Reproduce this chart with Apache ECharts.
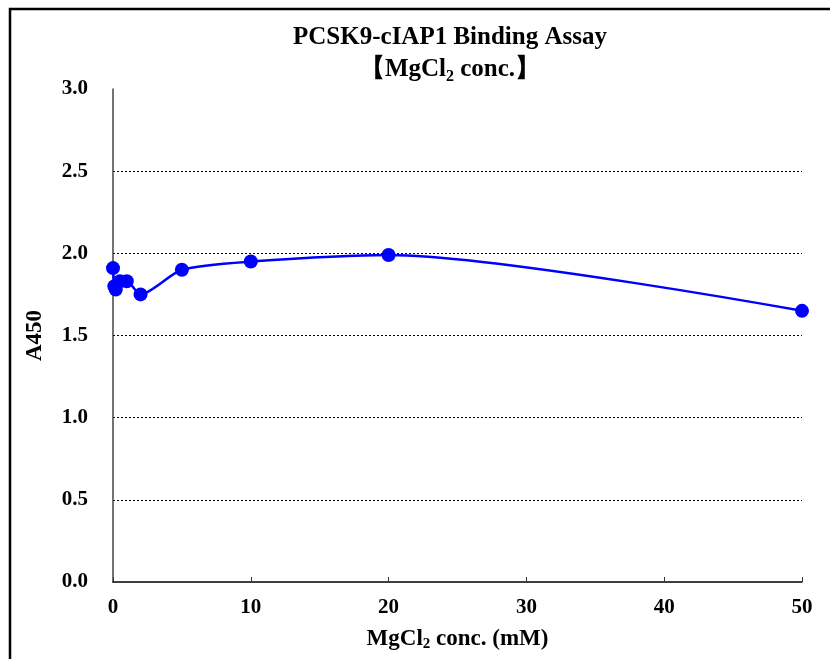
<!DOCTYPE html>
<html>
<head>
<meta charset="utf-8">
<script src="https://cdn.jsdelivr.net/npm/echarts@6/dist/echarts.min.js"></script>
<style>
  html, body { margin: 0; padding: 0; background: #fff; }
  #chart { width: 830px; height: 659px; }
</style>
</head>
<body>
<div id="chart"></div>
<script>
// MgCl2 concentration (mM) and A450 readings
const conc = [0, 0.1, 0.2, 0.5, 1, 2, 5, 10, 20, 50];
const a450 = [1.91, 1.80, 1.78, 1.83, 1.83, 1.75, 1.90, 1.95, 1.99, 1.65];
const gridValues = [0.5, 1.0, 1.5, 2.0, 2.5];

const serif = "'Liberation Serif', 'Times New Roman', serif";

const myChart = echarts.init(document.getElementById('chart'));

const points = conc.map((c, i) => [c, a450[i]]);

const option = {
    backgroundColor: '#fff',
    animation: false,
    title: {
        text: '{b|PCSK9-cIAP1 Binding Assay}\n{b|【MgCl}{s|2}{b| conc.】}',
        left: 445,
        top: 17,
        textAlign: 'center',
        textStyle: {
            rich: {
                b: { fontFamily: serif, fontWeight: 'bold', fontSize: 25, color: '#000', lineHeight: 32 },
                s: { fontFamily: serif, fontWeight: 'bold', fontSize: 16, color: '#000', lineHeight: 32, padding: [13, 0, 0, 0] }
            }
        }
    },
    graphic: [{
        type: 'rect',
        shape: { x: 10, y: 9, width: 860, height: 700 },
        style: { fill: 'none', stroke: '#000', lineWidth: 2.5 },
        silent: true
    }],
    grid: { left: 113, right: 28, top: 89, bottom: 77 },
    xAxis: {
        type: 'value',
        min: 0,
        max: 50,
        interval: 10,
        name: '{b|MgCl}{s|2}{b| conc. (mM)}',
        nameLocation: 'middle',
        nameGap: 44,
        nameTextStyle: {
            rich: {
                b: { fontFamily: serif, fontWeight: 'bold', fontSize: 23, color: '#000' },
                s: { fontFamily: serif, fontWeight: 'bold', fontSize: 15, color: '#000', padding: [11, 0, 0, 0] }
            }
        },
        axisLine: { onZero: false, lineStyle: { color: '#000', width: 1.5 } },
        axisTick: { inside: true, length: 5, lineStyle: { color: '#333' } },
        axisLabel: { margin: 15, fontFamily: serif, fontWeight: 'bold', fontSize: 21, color: '#000' },
        splitLine: { show: false }
    },
    yAxis: {
        type: 'value',
        min: 0,
        max: 3,
        interval: 0.5,
        name: 'A450',
        nameLocation: 'middle',
        nameGap: 66,
        nameTextStyle: { fontFamily: serif, fontWeight: 'bold', fontSize: 23, color: '#000' },
        axisLine: { show: true, lineStyle: { color: '#444', width: 1.5 } },
        axisTick: { show: false },
        axisLabel: {
            margin: 25,
            fontFamily: serif, fontWeight: 'bold', fontSize: 21, color: '#000',
            formatter: v => v.toFixed(1)
        },
        splitLine: { show: false }
    },
    series: [{
        type: 'line',
        data: points,
        smooth: 0.25,
        symbol: 'circle',
        symbolSize: 14,
        itemStyle: { color: '#0000ff' },
        lineStyle: { color: '#0000ff', width: 2.5 },
        z: 3,
        markLine: {
            silent: true,
            symbol: 'none',
            label: { show: false },
            lineStyle: { color: '#000', type: [2, 2], width: 1 },
            data: gridValues.map(v => ({ yAxis: v }))
        }
    }]
};

myChart.setOption(option, true);
</script>
</body>
</html>
